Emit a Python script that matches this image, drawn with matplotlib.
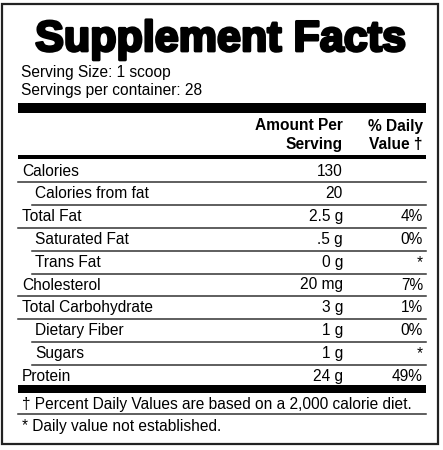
import matplotlib
matplotlib.use("Agg")
import matplotlib.pyplot as plt
import matplotlib.patheffects as pe

plt.rcParams["font.family"] = ["Liberation Sans", "DejaVu Sans"]

title = "Supplement Facts"
serving_lines = ["Serving Size: 1 scoop", "Servings per container: 28"]
nutrients = ["Calories", "Calories from fat", "Total Fat", "Saturated Fat", "Trans Fat",
             "Cholesterol", "Total Carbohydrate", "Dietary Fiber", "Sugars", "Protein"]
indented = [False, True, False, True, True, False, False, True, True, False]
amounts = ["130", "20", "2.5 g", ".5 g", "0 g", "20 mg", "3 g", "1 g", "1 g", "24 g"]
daily = ["", "", "4%", "0%", "*", "7%", "1%", "0%", "*", "49%"]
footnotes = ["\u2020 Percent Daily Values are based on a 2,000 calorie diet.",
             "* Daily value not established."]

fig = plt.figure(figsize=(4.43, 4.50), dpi=100)
ax = fig.add_axes([0, 0, 1, 1])
ax.set_xlim(0, 443)
ax.set_ylim(450, 0)
ax.axis("off")

ax.add_patch(plt.Rectangle((2.5, 3.5), 436, 440, fill=False, lw=1.6, ec="#222"))

L, R = 18, 426
fs = 11.2
ax.text(220, 40, title, fontsize=31, fontweight="bold", va="center", ha="center",
        path_effects=[pe.withStroke(linewidth=2.0, foreground="black")])
for i, s in enumerate(serving_lines):
    ax.text(21, 73 + i * 18, s, fontsize=fs, va="center")

ax.fill_between([L, R], 103, 113, color="black", lw=0)
ax.text(343, 126, "Amount Per", fontsize=fs, fontweight="bold", ha="right", va="center")
ax.text(343, 144, "Serving", fontsize=fs, fontweight="bold", ha="right", va="center")
ax.text(R - 3, 126, "% Daily", fontsize=fs, fontweight="bold", ha="right", va="center")
ax.text(R - 3, 144, "Value \u2020", fontsize=fs, fontweight="bold", ha="right", va="center")
ax.fill_between([L, R], 155, 159, color="black", lw=0)

y0, dy = 171, 22.8
for i, name in enumerate(nutrients):
    y = y0 + i * dy
    x = 35 if indented[i] else 22
    ax.text(x, y, name, fontsize=fs, va="center")
    ax.text(343, y, amounts[i], fontsize=fs, va="center", ha="right")
    ax.text(R - 3, y, daily[i], fontsize=fs, va="center", ha="right")
    if i < len(nutrients) - 1:
        ax.plot([32 if indented[i] else L, R], [y + 11.4] * 2, color="#333", lw=1.1)

ax.fill_between([L, R], 385, 393, color="black", lw=0)
ax.text(22, 404, footnotes[0], fontsize=fs, va="center")
ax.plot([L, R], [414, 414], color="#333", lw=1.1)
ax.text(22, 426, footnotes[1], fontsize=fs, va="center")

fig.savefig("out.png", dpi=100)
